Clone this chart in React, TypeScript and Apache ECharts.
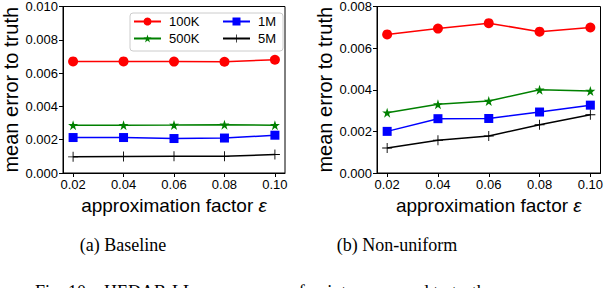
import React, { useEffect, useRef } from "react";
import * as echarts from "echarts";

const epsValues = [0.02, 0.04, 0.06, 0.08, 0.1];
const xTicks = [0.02, 0.04, 0.06, 0.08, 0.1];
const seriesNames = ["100K", "500K", "1M", "5M"];

const baseline100K = [0.0067, 0.0067, 0.00669, 0.00668, 0.0068];
const baseline500K = [0.00287, 0.00287, 0.00288, 0.0029, 0.00287];
const baseline1M = [0.00213, 0.00213, 0.00207, 0.0021, 0.00227];
const baseline5M = [0.00097, 0.00099, 0.001, 0.001, 0.00111];

const nonuni100K = [0.00666, 0.00694, 0.0072, 0.00679, 0.00699];
const nonuni500K = [0.0029, 0.0033, 0.00346, 0.004, 0.00394];
const nonuni1M = [0.002, 0.00261, 0.00262, 0.00293, 0.00326];
const nonuni5M = [0.0012, 0.00157, 0.00178, 0.00232, 0.0028];

const captions = ["(a) Baseline", "(b) Non-uniform"];

const STAR =
  "path://M0,-1 L0.2245,-0.309 L0.951,-0.309 L0.363,0.118 L0.588,0.809 L0,0.382 L-0.588,0.809 L-0.363,0.118 L-0.951,-0.309 L-0.2245,-0.309 Z";
const PLUS =
  "path://M-0.09,-1 L0.09,-1 L0.09,-0.09 L1,-0.09 L1,0.09 L0.09,0.09 L0.09,1 L-0.09,1 L-0.09,0.09 L-1,0.09 L-1,-0.09 L-0.09,-0.09 Z";

const styles: Record<string, { color: string; symbol: string; size: number }> = {
  "100K": { color: "#ff0000", symbol: "circle", size: 10 },
  "500K": { color: "#008000", symbol: STAR, size: 10 },
  "1M": { color: "#0000ff", symbol: "rect", size: 9 },
  "5M": { color: "#000000", symbol: PLUS, size: 10 },
};

const FONT = "'Liberation Sans', Arial, sans-serif";
const SERIF = "'Liberation Serif', 'Times New Roman', serif";

export default function App() {
  const ref = useRef<HTMLDivElement>(null);
  useEffect(() => {
    if (!ref.current) return;
    const chart = echarts.init(ref.current, undefined, { renderer: "svg" });

    const mkX = (gridIndex: number) => ({
      type: "value",
      gridIndex,
      min: 0.016,
      max: 0.104,
      splitLine: { show: false },
      axisLine: { show: true, lineStyle: { color: "#000", width: 1 } },
      axisTick: {
        show: true,
        customValues: xTicks,
        length: 4,
        lineStyle: { color: "#000" },
      },
      axisLabel: {
        customValues: xTicks,
        formatter: (v: number) => v.toFixed(2),
        color: "#000",
        fontSize: 13,
        fontFamily: FONT,
        margin: 5,
      },
      name: "{a|approximation factor }{e|ε}",
      nameLocation: "middle",
      nameGap: 18,
      nameTextStyle: {
        rich: {
          a: { fontSize: 19, fontFamily: FONT, color: "#000" },
          e: { fontSize: 19, fontFamily: FONT, color: "#000", fontStyle: "italic" },
        },
      },
    });
    const mkY = (gridIndex: number, max: number) => ({
      type: "value",
      gridIndex,
      min: 0,
      max,
      interval: 0.002,
      splitLine: { show: false },
      axisLine: { show: true, lineStyle: { color: "#000", width: 1 } },
      axisTick: { show: true, length: 4, lineStyle: { color: "#000" } },
      axisLabel: {
        formatter: (v: number) => v.toFixed(3),
        color: "#000",
        fontSize: 13,
        fontFamily: FONT,
        margin: 5,
      },
      name: "mean error to truth",
      nameLocation: "middle",
      nameGap: 42,
      nameTextStyle: { fontSize: 20, fontFamily: FONT, color: "#000" },
    });

    const data: Record<string, number[][]> = {
      "100K": [baseline100K, nonuni100K],
      "500K": [baseline500K, nonuni500K],
      "1M": [baseline1M, nonuni1M],
      "5M": [baseline5M, nonuni5M],
    };

    const series: any[] = [];
    [0, 1].forEach((g) => {
      seriesNames.forEach((name) => {
        const st = styles[name];
        series.push({
          type: "line",
          name,
          xAxisIndex: g,
          yAxisIndex: g,
          data: epsValues.map((x, i) => [x, data[name][g][i]]),
          symbol: st.symbol,
          symbolSize: st.size,
          showSymbol: true,
          lineStyle: { color: st.color, width: 1.5 },
          itemStyle: { color: st.color, borderWidth: 0 },
          z: 3,
        });
      });
    });

    const legendCommon = {
      orient: "vertical",
      top: 15,
      itemWidth: 27,
      itemHeight: 10,
      itemGap: 4,
      padding: 0,
      textStyle: { fontSize: 13, fontFamily: FONT, color: "#000", padding: [0, 0, 0, 3] },
    };

    chart.setOption({
      animation: false,
      grid: [
        { left: 60, top: 6, width: 225, height: 167, show: true, borderColor: "#000", borderWidth: 1, backgroundColor: "transparent" },
        { left: 377, top: 6, width: 225, height: 167, show: true, borderColor: "#000", borderWidth: 1, backgroundColor: "transparent" },
      ],
      xAxis: [mkX(0), mkX(1)],
      yAxis: [mkY(0, 0.01), mkY(1, 0.008)],
      legend: [
        { ...legendCommon, left: 133, data: ["100K", "500K"] },
        { ...legendCommon, left: 222, data: ["1M", "5M"] },
      ],
      graphic: [
        {
          type: "rect",
          shape: { x: 130, y: 13, width: 153, height: 38, r: 3 },
          style: { fill: "rgba(255,255,255,0.85)", stroke: "#cccccc", lineWidth: 1 },
          z: 1,
        },
        {
          type: "text",
          x: 123,
          y: 245,
          style: {
            text: captions[0],
            font: `18px ${SERIF}`,
            fill: "#000",
            textAlign: "center",
            textVerticalAlign: "middle",
          },
        },
        {
          type: "text",
          x: 397,
          y: 245,
          style: {
            text: captions[1],
            font: `18px ${SERIF}`,
            fill: "#000",
            textAlign: "center",
            textVerticalAlign: "middle",
          },
        },
        {
          type: "text",
          x: 35,
          y: 283,
          style: {
            text: "Fig. 10.   HEDAB-LL   mean error of points compared to truth",
            font: `18px ${SERIF}`,
            fill: "#000",
            textAlign: "left",
            textVerticalAlign: "top",
          },
        },
      ],
      series,
    });
    return () => chart.dispose();
  }, []);
  return (
    <div
      ref={ref}
      style={{ position: "fixed", left: 0, top: 0, width: 606, height: 288, background: "#fff" }}
    />
  );
}
